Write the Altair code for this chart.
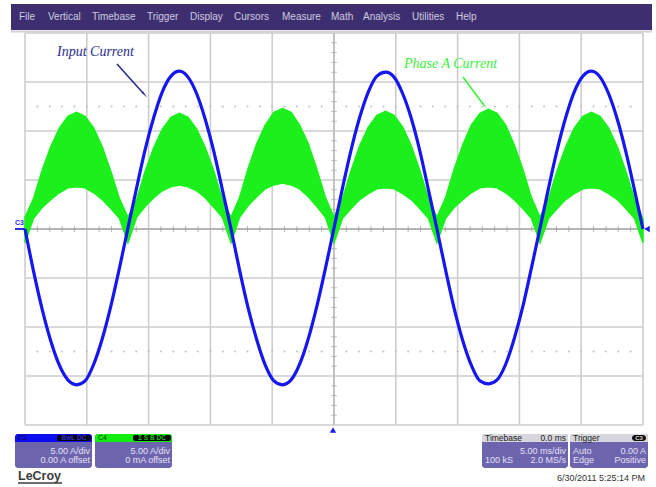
import altair as alt
import pandas as pd

# ---- acquisition: 50 ms record (10 div x 5 ms/div), amplitudes in amperes ----
time_ms = [
    0.00, 0.69, 1.39, 2.08, 2.78, 3.47, 4.17, 4.86, 5.56, 6.25, 6.94, 7.64,
    8.33, 9.03, 9.72, 10.42, 11.11, 11.81, 12.50, 13.19, 13.89, 14.58, 15.28, 15.97,
    16.67, 17.36, 18.06, 18.75, 19.44, 20.14, 20.83, 21.53, 22.22, 22.92, 23.61, 24.31,
    25.00, 25.69, 26.39, 27.08, 27.78, 28.47, 29.17, 29.86, 30.56, 31.25, 31.94, 32.64,
    33.33, 34.03, 34.72, 35.42, 36.11, 36.81, 37.50, 38.19, 38.89, 39.58, 40.28, 40.97,
    41.67, 42.36, 43.06, 43.75, 44.44, 45.14, 45.83, 46.53, 47.22, 47.92, 48.61, 49.31,
    50.00,
]

# C3 - input current
input_current_a = [
    0.0, -4.3, -8.2, -11.4, -13.9, -15.4, -15.9, -15.5, -13.8, -11.2, -7.9, -4.0,
    0.1, 4.2, 8.1, 11.4, 14.0, 15.6, 16.1, 15.5, 13.8, 11.2, 7.9, 4.0,
    0.0, -4.2, -8.1, -11.3, -13.9, -15.5, -15.9, -15.4, -13.8, -11.2, -7.9, -4.0,
    0.1, 4.2, 8.1, 11.4, 14.0, 15.6, 16.0, 15.5, 13.8, 11.3, 8.0, 4.0,
    0.0, -4.2, -8.1, -11.4, -13.9, -15.5, -15.8, -15.4, -13.8, -11.2, -7.9, -4.0,
    0.1, 4.2, 8.1, 11.4, 14.0, 15.6, 16.1, 15.5, 13.8, 11.2, 7.9, 4.0,
    0.0,
]

# C4 - phase A current, switching band: outer and inner envelopes
phase_a_upper_a = [
    1.2, 3.1, 6.0, 8.4, 10.3, 11.5, 11.9, 11.5, 10.3, 8.4, 5.9, 3.1,
    1.2, 3.0, 5.9, 8.3, 10.2, 11.4, 11.8, 11.4, 10.2, 8.3, 5.9, 3.0,
    1.2, 3.2, 6.2, 8.7, 10.6, 11.9, 12.3, 11.9, 10.6, 8.7, 6.1, 3.2,
    1.2, 3.1, 6.0, 8.5, 10.4, 11.6, 12.0, 11.6, 10.4, 8.5, 6.0, 3.1,
    1.2, 3.2, 6.1, 8.6, 10.6, 11.8, 12.2, 11.8, 10.6, 8.6, 6.1, 3.2,
    1.2, 3.1, 6.0, 8.4, 10.3, 11.5, 11.9, 11.5, 10.3, 8.4, 5.9, 3.1,
    1.0,
]
phase_a_lower_a = [
    -1.4, 1.1, 2.2, 3.0, 3.7, 4.2, 4.3, 4.2, 3.7, 3.0, 2.1, 1.1,
    -1.4, 1.2, 2.3, 3.2, 3.9, 4.3, 4.5, 4.3, 3.9, 3.2, 2.2, 1.2,
    -1.4, 1.2, 2.4, 3.3, 4.1, 4.5, 4.7, 4.5, 4.1, 3.3, 2.3, 1.2,
    -1.4, 1.1, 2.1, 3.0, 3.6, 4.1, 4.2, 4.1, 3.6, 3.0, 2.1, 1.1,
    -1.4, 1.1, 2.2, 3.0, 3.7, 4.2, 4.3, 4.2, 3.7, 3.0, 2.1, 1.1,
    -1.4, 1.1, 2.1, 3.0, 3.6, 4.1, 4.2, 4.1, 3.6, 3.0, 2.1, 1.1,
    -1.4,
]

# graticule: major divisions
grid_time_ms = [0, 5, 10, 15, 20, 25, 30, 35, 40, 45, 50]
grid_current_a = [-20, -15, -10, -5, 0, 5, 10, 15, 20]
marker_level_a = [12.5, -12.5]

menu_items = ["File", "Vertical", "Timebase", "Trigger", "Display", "Cursors",
              "Measure", "Math", "Analysis", "Utilities", "Help"]
menu_left_px = [19, 48, 92, 147, 190, 234, 282, 331, 363, 412, 456]

# ---- layout (page pixels) ----
LEFT, TOP = 25, 33
W, H = 618, 392
PAGE_W, PAGE_H = 656, 487


def px(x):
    return x - LEFT


def py(y):
    return y - TOP


ONE = pd.DataFrame({"k": [0]})
SANS = "Liberation Sans"
SERIF = "Liberation Serif"

x_scale = alt.Scale(domain=[0, 50], nice=False, zero=False)
y_scale = alt.Scale(domain=[-20, 20], nice=False, zero=False)
X = lambda f: alt.X(f, type="quantitative", scale=x_scale, axis=None)
Y = lambda f: alt.Y(f, type="quantitative", scale=y_scale, axis=None)


def box(x1, y1, x2, y2, color, radius=0, **kw):
    return alt.Chart(ONE).mark_rect(color=color, cornerRadius=radius, **kw).encode(
        x=alt.value(px(x1)), x2=alt.value(px(x2)),
        y=alt.value(py(y1)), y2=alt.value(py(y2)))


def line(x1, y1, x2, y2, color, width=1):
    return alt.Chart(ONE).mark_rule(color=color, strokeWidth=width).encode(
        x=alt.value(px(x1)), x2=alt.value(px(x2)),
        y=alt.value(py(y1)), y2=alt.value(py(y2)))


def label(s, x, y, size=9, color="#e4e0f6", align="left", font=SANS,
          style="normal", weight="normal"):
    return alt.Chart(ONE).mark_text(
        text=s, fontSize=size, color=color, align=align, baseline="middle",
        font=font, fontStyle=style, fontWeight=weight).encode(
        x=alt.value(px(x)), y=alt.value(py(y)))


def symbol(shape, x, y, size, color, angle=0):
    return alt.Chart(ONE).mark_point(
        shape=shape, size=size, filled=True, color=color, opacity=1,
        angle=angle).encode(x=alt.value(px(x)), y=alt.value(py(y)))


layers = []

# graticule
layers.append(alt.Chart(pd.DataFrame({"t": grid_time_ms})).mark_rule(
    color="#cdcdcd", strokeWidth=1.6).encode(x=X("t")))
layers.append(alt.Chart(pd.DataFrame({"i": grid_current_a})).mark_rule(
    color="#cdcdcd", strokeWidth=1.6).encode(y=Y("i")))
layers.append(alt.Chart(pd.DataFrame({"t": [25]})).mark_rule(
    color="#b4b4b4", strokeWidth=1.2).encode(x=X("t")))
layers.append(alt.Chart(pd.DataFrame({"i": [0]})).mark_rule(
    color="#a8a8a8", strokeWidth=1.4).encode(y=Y("i")))

minor_t = [m for m in range(1, 50) if m % 5]
minor_i = [m for m in range(-19, 20) if m % 5]
layers.append(alt.Chart(pd.DataFrame({"t": minor_t, "i": [0] * len(minor_t)})).mark_tick(
    orient="vertical", size=6, thickness=1, color="#9a9a9a").encode(x=X("t"), y=Y("i")))
layers.append(alt.Chart(pd.DataFrame({"t": [25] * len(minor_i), "i": minor_i})).mark_tick(
    orient="horizontal", size=6, thickness=1, color="#a8a8a8").encode(x=X("t"), y=Y("i")))

dots = pd.DataFrame([(t, lv) for lv in marker_level_a for t in range(1, 50)],
                    columns=["t", "i"])
layers.append(alt.Chart(dots).mark_square(size=3, color="#bdbdbd", opacity=1).encode(
    x=X("t"), y=Y("i")))

# traces
traces = pd.DataFrame({"t": time_ms, "i3": input_current_a,
                       "hi": phase_a_upper_a, "lo": phase_a_lower_a})
layers.append(alt.Chart(traces).mark_area(
    color="#1cf01c", opacity=1, interpolate="linear",
    stroke="#1cf01c", strokeWidth=1.5).encode(x=X("t"), y=Y("hi"), y2="lo"))
layers.append(alt.Chart(traces).mark_line(
    color="#1616ee", strokeWidth=3.2, interpolate="monotone").encode(
    x=X("t"), y=Y("i3")))

# channel / trigger markers
layers.append(label("C3", 15, 223, size=7, color="#2a2ae0", weight="bold"))
layers.append(line(15, 229, 25, 229, "#2a2ae0", 2))
layers.append(symbol("triangle-left", 647, 229, 40, "#1a1aee"))
layers.append(symbol("triangle-up", 333, 430, 40, "#1a1aee"))

# annotations
layers.append(label("Input Current", 57, 52, size=14, color="#2c2c8e",
                    font=SERIF, style="italic"))
layers.append(line(117, 64, 143, 93, "#2c2c8e", 1.6))
layers.append(symbol("wedge", 144, 94, 70, "#2c2c8e", angle=139))
layers.append(label("Phase A Current", 404, 64, size=14, color="#3cf03c",
                    font=SERIF, style="italic"))
layers.append(line(463, 77, 483, 104, "#3cf03c", 1.6))
layers.append(symbol("wedge", 484, 105, 70, "#3cf03c", angle=144))

# menu bar
layers.append(box(11, 4, 652, 30, "#3d2f6f"))
layers.append(line(11, 31.5, 652, 31.5, "#d2d2d8", 2))
for name, x0 in zip(menu_items, menu_left_px):
    layers.append(label(name, x0, 17, size=10, color="#cfcbe0"))

# channel boxes
BODY = "#6d64ae"
layers.append(box(15, 434, 92, 468, BODY, 3))
layers.append(box(15, 434, 92, 442, "#0c0cf0", 0, cornerRadiusTopLeft=3, cornerRadiusTopRight=3))
layers.append(label("C3", 18, 438, size=7, color="#101040"))
layers.append(box(57, 435, 91, 441, "#050510", 2))
layers.append(label("BwL DC", 74, 438, size=6.5, color="#3030d0", align="center", weight="bold"))
layers.append(label("5.00 A/div", 90, 451, align="right"))
layers.append(label("0.00 A offset", 90, 460, align="right"))

layers.append(box(95, 434, 172, 468, BODY, 3))
layers.append(box(95, 434, 172, 442, "#10ee10", 0, cornerRadiusTopLeft=3, cornerRadiusTopRight=3))
layers.append(label("C4", 98, 438, size=7, color="#103010"))
layers.append(box(133, 435, 171, 441, "#050a05", 2))
layers.append(label("\u03a3 S B DC", 152, 438, size=6.5, color="#20c020", align="center", weight="bold"))
layers.append(label("5.00 A/div", 170, 451, align="right"))
layers.append(label("0 mA offset", 170, 460, align="right"))

# timebase / trigger boxes
layers.append(box(482, 434, 568, 468, BODY, 3))
layers.append(box(482, 434, 568, 442, "#d6d6dc", 0, cornerRadiusTopLeft=3, cornerRadiusTopRight=3))
layers.append(label("Timebase", 485, 438, size=8.5, color="#202020"))
layers.append(label("0.0 ms", 566, 438, size=8.5, color="#202020", align="right"))
layers.append(label("5.00 ms/div", 566, 451, align="right"))
layers.append(label("100 kS", 485, 460))
layers.append(label("2.0 MS/s", 566, 460, align="right"))

layers.append(box(570, 434, 648, 468, BODY, 3))
layers.append(box(570, 434, 648, 442, "#d6d6dc", 0, cornerRadiusTopLeft=3, cornerRadiusTopRight=3))
layers.append(label("Trigger", 573, 438, size=8.5, color="#202020"))
layers.append(box(632, 435, 646, 441, "#101010", 3))
layers.append(label("C3", 639, 438, size=6, color="#d0d0d0", align="center", weight="bold"))
layers.append(label("Auto", 573, 451))
layers.append(label("0.00 A", 646, 451, align="right"))
layers.append(label("Edge", 573, 460))
layers.append(label("Positive", 646, 460, align="right"))

layers.append(label("6/30/2011 5:25:14 PM", 645, 478, size=9, color="#333333", align="right"))
layers.append(label("LeCroy", 18, 476, size=12.5, color="#3c3c3c", weight="bold"))
layers.append(line(18, 483, 62, 483, "#3c3c3c", 1.5))

chart = alt.layer(*layers).properties(
    width=W, height=H,
    padding={"left": LEFT, "top": TOP, "right": PAGE_W - LEFT - W, "bottom": PAGE_H - TOP - H},
    autosize=alt.AutoSizeParams(type="none"),
    background="white",
).configure_view(strokeWidth=0)

chart.save("out.html", embed_options={"renderer": "svg", "actions": False})
